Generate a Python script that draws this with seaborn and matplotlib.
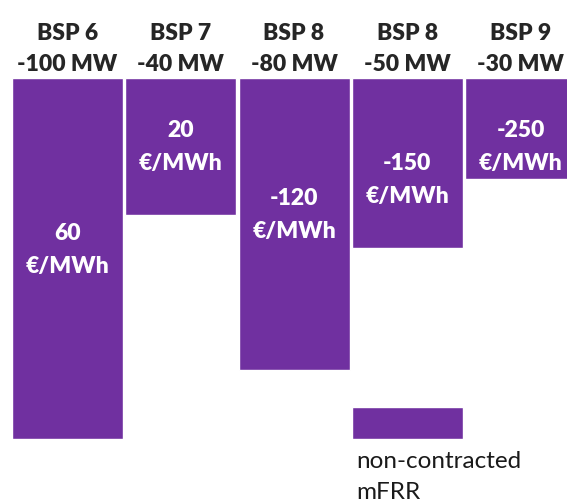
import matplotlib
matplotlib.use("Agg")
import matplotlib.pyplot as plt
import seaborn as sns
import pandas as pd

# bids in the merit order, bar length as drawn (MW scale of the sketch)
bsp = ['BSP 6', 'BSP 7', 'BSP 8', 'BSP 8', 'BSP 9']
volume_label = ['-100 MW', '-40 MW', '-80 MW', '-50 MW', '-30 MW']
bar_length = [100, 38, 81, 47, 28]
price = ['60', '20', '-120', '-150', '-250']
price_pos = [47.6, 19.1, 38.0, 28.3, 19.1]

# non-contracted mFRR block under the 4th column
nc_index = 3
nc_start = 91
nc_end = 100

purple = '#7030A0'

df = pd.DataFrame({'bid': [f'{b}\n{v}' for b, v in zip(bsp, volume_label)],
                   'length': bar_length})

sns.set_style('white')
plt.rcParams['font.family'] = ['Lato', 'DejaVu Sans']

fig = plt.figure(figsize=(5.67, 5.03), dpi=100)
ax = fig.add_axes([12 / 567, 64 / 503, 555 / 567, 361 / 503])

sns.barplot(data=df, x='bid', y='length', color=purple, saturation=1,
            width=0.98, ax=ax)
ax.bar(nc_index, nc_end - nc_start, bottom=nc_start, width=0.98,
       color=purple)

ax.set_ylim(100, 0)
ax.set_xlim(-0.49, 4.41)
ax.set_xlabel('')
ax.set_ylabel('')

ax.xaxis.tick_top()
ax.tick_params(axis='x', length=0, pad=2)
for lab in ax.get_xticklabels():
    lab.set_fontweight('heavy')
    lab.set_fontsize(16.5)
    lab.set_linespacing(1.62)

# faint marks on the left edge
ax.set_yticks([9.1, 18.6, 28.0, 37.7, 47.1, 56.5, 81.4, 90.9])
ax.tick_params(axis='y', direction='in', length=2, width=1,
               color='#e6dcf0', labelleft=False)
for s in ax.spines.values():
    s.set_visible(False)

for i, (p, y) in enumerate(zip(price, price_pos)):
    ax.text(i, y, f'{p}\n€/MWh', ha='center', va='center', color='white',
            fontsize=16.5, fontweight='heavy', linespacing=1.68)

ax.text(nc_index - 0.49 + 0.035, nc_end + 3.3, 'non-contracted\nmFRR',
        ha='left', va='top', fontsize=17.5, color='#1a1a1a',
        linespacing=1.6, clip_on=False)

fig.savefig('out.png', dpi=100)
